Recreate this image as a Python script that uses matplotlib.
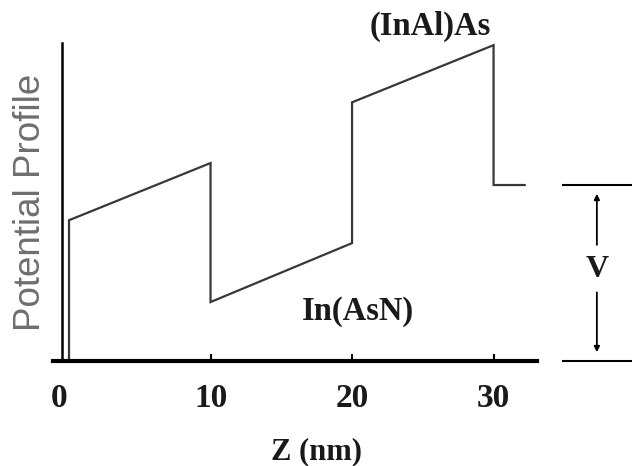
import matplotlib
matplotlib.use("Agg")
import matplotlib.pyplot as plt
from matplotlib.transforms import ScaledTranslation

# potential profile of the (InAl)As / In(AsN) superlattice, units of V
Z_NM      = [0, 0, 10, 10, 20, 20, 30, 30, 32.2]
POTENTIAL = [0, 0.80, 1.125, 0.335, 0.67, 1.47, 1.795, 1.0, 1.0]

X_TICKS       = [0, 10, 20, 30]
X_TICK_LABELS = ["0", "10", "20", "30"]
V_LEVEL       = 1.0

SERIF = ["Liberation Serif", "DejaVu Serif"]
SANS  = ["Liberation Sans", "DejaVu Sans"]

def main():
    fig = plt.figure(figsize=(6.32, 4.66), dpi=100)
    ax = fig.add_axes([0.0839, 0.2253, 0.7658, 0.6824])

    ax.plot(Z_NM, POTENTIAL, color="#383838", linewidth=1.6,
            solid_joinstyle="miter", clip_on=False)

    ax.set_xlim(-1.13, 33.07)
    ax.set_ylim(0, 1.807)

    # ── axes look ─────────────────────────────────────────
    ax.spines["top"].set_visible(False)
    ax.spines["right"].set_visible(False)
    ax.spines["bottom"].set_linewidth(3.0)
    ax.spines["left"].set_linewidth(1.8)
    ax.spines["left"].set_position(("data", -0.49))

    ax.set_yticks([])
    ax.set_xticks(X_TICKS)
    ax.set_xticklabels(X_TICK_LABELS, family=SERIF, fontweight="bold",
                       fontsize=24, color="#1a1a1a")
    ax.tick_params(axis="x", direction="in", length=5, width=1.5, pad=16)
    shift = ScaledTranslation(-10 / 100, 0, fig.dpi_scale_trans)
    first = ax.get_xticklabels()[0]
    first.set_transform(first.get_transform() + shift)

    ax.set_xlabel("Z (nm)", family=SERIF, fontweight="bold", fontsize=22,
                  color="#1a1a1a")
    ax.xaxis.set_label_coords(0.545, -0.24)

    ax.text(-0.0475, 0.5, "Potential Profile", transform=ax.transAxes,
            rotation=90, ha="center", va="center", family=SANS,
            fontsize=26.5, color="#6e6e6e")

    # ── annotations ───────────────────────────────────────
    ax.text(25.5, 1.90, "(InAl)As", family=SERIF, fontweight="bold",
            fontsize=23.5, color="#1a1a1a", ha="center", va="center")
    ax.text(20.4, 0.28, "In(AsN)", family=SERIF, fontweight="bold",
            fontsize=23.5, color="#1a1a1a", ha="center", va="center")

    # V marker on the right
    ax.plot([34.9, 40.0], [V_LEVEL, V_LEVEL], color="black",
            linewidth=1.5, clip_on=False)
    ax.plot([34.9, 40.0], [0, 0], color="black", linewidth=1.5,
            clip_on=False)
    ax.annotate("", xy=(37.3, V_LEVEL * 0.95), xytext=(37.3, V_LEVEL * 0.66),
                arrowprops=dict(arrowstyle="-|>", color="black", lw=1.3,
                                mutation_scale=8, shrinkA=0, shrinkB=0),
                annotation_clip=False)
    ax.annotate("", xy=(37.3, V_LEVEL * 0.05), xytext=(37.3, V_LEVEL * 0.39),
                arrowprops=dict(arrowstyle="-|>", color="black", lw=1.3,
                                mutation_scale=8, shrinkA=0, shrinkB=0),
                annotation_clip=False)
    ax.text(37.3, V_LEVEL * 0.52, "V", family=SERIF, fontweight="bold",
            fontsize=23, color="#1a1a1a", ha="center", va="center")

    fig.savefig("out.png", dpi=100)
    plt.close(fig)

if __name__ == "__main__":
    main()
